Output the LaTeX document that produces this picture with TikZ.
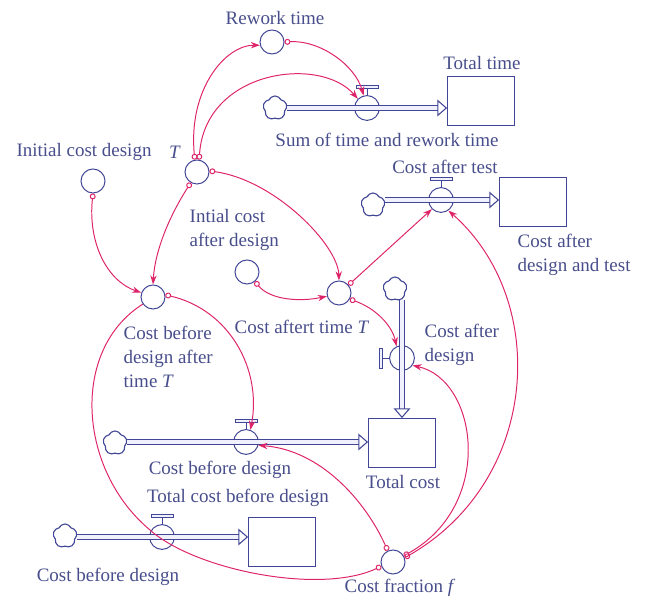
\documentclass[tikz,border=0pt]{standalone}
\usepackage{fontspec}
\setmainfont{Liberation Serif}
\usetikzlibrary{arrows.meta,shapes.symbols}

\definecolor{vblue}{RGB}{66,70,150}
\definecolor{vtextc}{RGB}{72,78,140}
\definecolor{vlink}{RGB}{222,36,104}
\definecolor{vpipe}{RGB}{240,241,252}

\begin{document}
\begin{tikzpicture}[
    x=0.025cm, y=0.025cm,
    every node/.style={font=\fontsize{13.5}{16.8}\selectfont, text=vtextc},
    aux/.style={circle, draw=vblue, line width=0.7pt, minimum size=0.6cm, inner sep=0pt},
    valve/.style={circle, draw=vblue, line width=0.7pt, minimum size=0.62cm, inner sep=0pt},
    stock/.style={draw=vblue, line width=0.7pt, minimum width=1.67cm, minimum height=1.22cm, inner sep=0pt},
    source/.style={cloud, cloud puffs=5, cloud puff arc=130, aspect=1, draw=vblue,
        line width=0.8pt, minimum width=0.6cm, minimum height=0.6cm, inner sep=0pt},
    lbl/.style={align=center, inner sep=1pt},
    pipe/.style={draw=vblue, line width=0.75pt, double=vpipe, double distance=2.2pt,
        -{Triangle[open, length=7pt, width=12pt]}},
    handle/.style={draw=vblue, line width=0.7pt},
    link/.style={draw=vlink, line width=0.7pt,
        {Circle[open, length=4.2pt]}-{Stealth[length=6.5pt, width=4.5pt]}}
]
\useasboundingbox (0,0) rectangle (646,600);

% auxiliaries
\node (rework) [aux] at (272,558) {};
\node (reworklbl) [lbl] at (275,582) {Rework time};
\node (tt) [aux] at (197,428) {};
\node (ttlbl) [lbl] at (175,448) {\textit{T}};
\node (initcd) [aux] at (93,419) {};
\node (initcdlbl) [lbl] at (84,448) {Initial cost design};
\node (iad) [aux] at (247,328) {};
\node (iadlbl) [lbl, align=left, anchor=west] at (188,370) {Intial cost\\after design};
\node (catt) [aux] at (339,307) {};
\node (cattlbl) [lbl] at (302,273) {Cost aftert time \textit{T}};
\node (cbdt) [aux] at (153,303) {};
\node (cbdtlbl) [lbl, align=left, anchor=west] at (122,243) {Cost before\\design after\\time \textit{T}};
\node (cf) [aux] at (393,38) {};
\node (cflbl) [lbl] at (400,12) {Cost fraction \textit{f}};

% sum of time and rework time
\node (cloud1) [source] at (275,492) {};
\node (valve1) [valve] at (367,492) {};
\node (stock1) [stock] at (481,499) {};
\node (stock1lbl) [lbl] at (482,537) {Total time};
\node (valve1lbl) [lbl] at (387,460) {Sum of time and rework time};

% cost after test
\node (cloud2) [source] at (373,395) {};
\node (valve2) [valve] at (441,400) {};
\node (stock2) [stock] at (533,398) {};
\node (valve2lbl) [lbl] at (445,433) {Cost after test};
\node (stock2lbl) [lbl, align=left, anchor=west] at (516,345) {Cost after\\design and test};

% cost after design
\node (cloud3) [source] at (395,311) {};
\node (valve3) [valve] at (402,242) {};
\node (stock3) [stock] at (402,157) {};
\node (valve3lbl) [lbl, align=left, anchor=west] at (423,255) {Cost after\\design};
\node (stock3lbl) [lbl] at (403,118) {Total cost};

% cost before design
\node (cloud4) [source] at (115,157) {};
\node (valve4) [valve] at (246,158) {};
\node (valve4lbl) [lbl] at (220,130) {Cost before design};

% total cost before design
\node (cloud5) [source] at (65,64) {};
\node (valve5) [valve] at (162,63) {};
\node (stock5) [stock] at (282,58) {};
\node (stock5lbl) [lbl] at (238,102) {Total cost before design};
\node (cloud5lbl) [lbl] at (108,23) {Cost before design};

% pipes
\draw[pipe] (cloud1.east |- valve1) -- (stock1.west |- valve1);
\draw[pipe] (cloud2.east |- valve2) -- (stock2.west |- valve2);
\draw[pipe] (valve3 |- cloud3.south) -- (valve3 |- stock3.north);
\draw[pipe] (cloud4.east |- valve4) -- (stock3.west |- valve4);
\draw[pipe] (cloud5.east |- valve5) -- (stock5.west |- valve5);

% valve handles
\foreach \v in {valve1,valve2,valve4,valve5}{
    \draw[handle] (\v.north) -- ++(0,7);
    \draw[handle, fill=vpipe] (\v.north) ++(-11,7) rectangle ++(22,3);
}
\draw[handle] (valve3.west) -- ++(-7,0);
\draw[handle, fill=vpipe] (valve3.west) ++(-10,-10) rectangle ++(3,20);

% links
\draw[link] (tt.100) .. controls (188,510) and (225,555) .. (rework.195);
\draw[link] (tt.80) .. controls (205,530) and (320,545) .. (valve1.135);
\draw[link] (rework.0) .. controls (320,560) and (355,535) .. (valve1.105);
\draw[link] (tt.240) .. controls (170,385) and (155,350) .. (cbdt.90);
\draw[link] (tt.5) .. controls (275,420) and (338,355) .. (catt.90);
\draw[link] (initcd.270) .. controls (88,360) and (105,320) .. (cbdt.160);
\draw[link] (iad.-50) .. controls (270,300) and (300,298) .. (catt.195);
\draw[link] (catt.40) -- (valve2.225);
\draw[link] (catt.-30) .. controls (375,292) and (392,275) .. (valve3.115);
\draw[link] (cbdt.10) .. controls (230,290) and (262,230) .. (valve4.70);
\draw[link] (cf.115) .. controls (365,100) and (320,150) .. (valve4.-15);
\draw[link] (cf.30) .. controls (495,95) and (478,220) .. (valve3.-35);
\draw[link] (cf.20) .. controls (540,120) and (550,300) .. (valve2.-55);
\draw[link, -{Circle[open, length=4.2pt]}] (cbdt.215) .. controls (70,250) and (78,130)
    .. (150,70) .. controls (195,30) and (320,5) .. (cf.200);

\end{tikzpicture}
\end{document}
